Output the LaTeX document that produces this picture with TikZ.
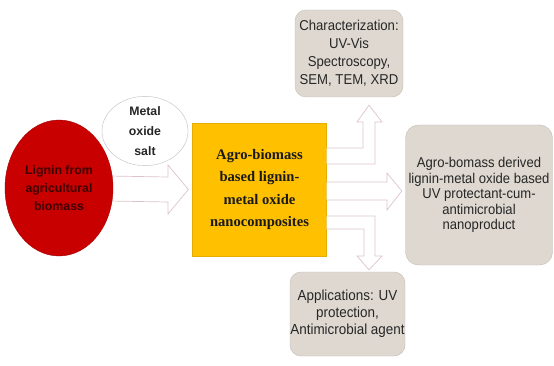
\documentclass[tikz,border=0pt]{standalone}
\usepackage{fontspec}
\setmainfont{Liberation Sans}
\newfontfamily\timesf{Liberation Serif}
\newfontfamily\narrowf[FakeStretch=0.92]{Liberation Sans}
\usetikzlibrary{shapes.geometric,calc,backgrounds}
\definecolor{redc}{RGB}{200,0,0}
\definecolor{redtext}{RGB}{60,0,0}
\definecolor{goldc}{RGB}{255,192,0}
\definecolor{boxfill}{RGB}{222,216,208}
\definecolor{boxline}{RGB}{196,188,180}
\definecolor{arrline}{RGB}{222,196,200}
\tikzset{
  graybox/.style={draw=boxline, fill=boxfill, rounded corners=11pt, align=center, inner sep=0pt, text=black!85},
  hollow/.style={draw=arrline, fill=white, line width=0.7pt, line join=miter},
}
\begin{document}
\begin{tikzpicture}[x=1pt,y=-1pt]
\useasboundingbox (0,0) rectangle (554,366);

% nodes
\node[ellipse, fill=redc, draw=redc!85!black, minimum width=108pt, minimum height=136pt, inner sep=0pt, align=center, text=redtext, font=\bfseries\fontsize{12.3}{18}\selectfont] (lig) at (59,188) {Lignin from\\agricultural\\biomass};
\node[ellipse, fill=white, draw=black!25, minimum width=86pt, minimum height=58pt, inner sep=0pt, align=center, text=black!85, font=\bfseries\fontsize{12.3}{20}\selectfont] (salt) at (145,131) {Metal\\oxide\\salt};
\node[rectangle, fill=goldc, draw=goldc!90!black, minimum width=134pt, minimum height=133pt, inner sep=0pt, align=center, text=black!90, font=\timesf\bfseries\fontsize{14.6}{22.5}\selectfont] (nano) at (259.5,189.5) {Agro-biomass\\based lignin-\\metal oxide\\nanocomposites};
\node[graybox, minimum width=108pt, minimum height=87pt, font=\narrowf\fontsize{14.3}{18}\selectfont] (char) at (349,53.5) {Characterization:\\UV-Vis\\Spectroscopy,\\SEM, TEM, XRD};
\node[graybox, minimum width=147pt, minimum height=140pt, rounded corners=13pt, font=\narrowf\fontsize{14.2}{15.5}\selectfont] (prod) at (479,195) {Agro-bomass derived\\lignin-metal oxide based\\UV protectant-cum-\\antimicrobial\\nanoproduct};
\node[graybox, minimum width=115pt, minimum height=84pt, font=\narrowf\fontsize{14.6}{17}\selectfont] (app) at (347.5,314) {Applications: UV\\protection,\\Antimicrobial agent};

% hollow arrows
\begin{scope}[on background layer]
\fill[white] (0,0) rectangle (554,366);
\draw[hollow] ($(lig.east)+(-5,-12)$) -- (168,177) -- (168,165) -- ($(nano.west)+(-4,0)$) -- (168,214) -- (168,202) -- ($(lig.east)+(-5,13)$) -- cycle;
\end{scope}

% up arrow to characterization
\draw[hollow] ($(nano.east)+(0,-41.5)$) -- (363,148) -- (363,122) -- (357,122) -- ($(char.south)+(20,8)$) -- (382,122) -- (375,122) -- (375,164) -- ($(nano.east)+(0,-25.5)$);
% middle arrow to product
\draw[hollow] ($(nano.east)+(0,-7.5)$) -- (387,182) -- (387,173) -- ($(prod.west)+(-3.5,-4)$) -- (387,210) -- (387,200) -- ($(nano.east)+(0,10.5)$);
% down arrow to applications
\draw[hollow] ($(nano.east)+(0,26.5)$) -- (375,216) -- (375,256) -- (382,256) -- ($(app.north)+(21.5,-2)$) -- (357,256) -- (364,256) -- (364,229) -- ($(nano.east)+(0,39.5)$);
\end{tikzpicture}
\end{document}
